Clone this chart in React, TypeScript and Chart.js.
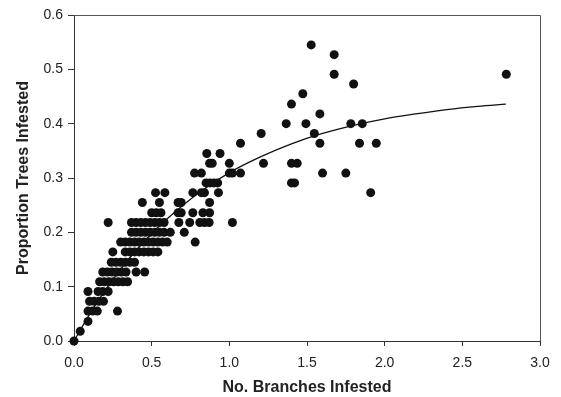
import React, { useEffect, useRef } from "react";
import { Chart, registerables } from "chart.js";

Chart.register(...registerables);

// Proportion of trees infested (y levels) and the branch counts (x) observed at each level
const rowLevels = [
  0, 0.018, 0.036, 0.055, 0.073, 0.091, 0.109, 0.127, 0.145, 0.164, 0.182, 0.2, 0.218,
  0.236, 0.255, 0.273, 0.291, 0.309, 0.327, 0.345, 0.364, 0.382, 0.4, 0.418, 0.436,
  0.455, 0.473, 0.491, 0.527, 0.545,
];
const rowBranches = [
  [0],
  [0.04],
  [0.09],
  [0.09, 0.12, 0.15, 0.28],
  [0.1, 0.13, 0.16, 0.19],
  [0.09, 0.155, 0.185, 0.22],
  [0.165, 0.195, 0.225, 0.255, 0.285, 0.315, 0.345],
  [0.185, 0.215, 0.245, 0.275, 0.305, 0.335, 0.4, 0.455],
  [0.24, 0.27, 0.3, 0.33, 0.36, 0.39],
  [0.25, 0.33, 0.36, 0.39, 0.42, 0.45, 0.48, 0.51, 0.54],
  [0.3, 0.33, 0.36, 0.39, 0.42, 0.45, 0.48, 0.51, 0.54, 0.57, 0.6, 0.78],
  [0.37, 0.4, 0.43, 0.46, 0.49, 0.52, 0.55, 0.58, 0.62, 0.71],
  [0.22, 0.37, 0.4, 0.43, 0.46, 0.49, 0.52, 0.55, 0.58, 0.675, 0.745, 0.81, 0.84, 0.87, 1.02],
  [0.5, 0.53, 0.56, 0.67, 0.69, 0.765, 0.83, 0.873],
  [0.44, 0.55, 0.67, 0.69, 0.873],
  [0.525, 0.585, 0.765, 0.82, 0.84, 0.93, 1.91],
  [0.85, 0.875, 0.9, 0.925, 1.4, 1.42],
  [0.776, 0.82, 1.0, 1.02, 1.072, 1.6, 1.75],
  [0.873, 0.89, 1.0, 1.22, 1.4, 1.437],
  [0.855, 0.94],
  [1.072, 1.583, 1.838, 1.946],
  [1.205, 1.547],
  [1.366, 1.493, 1.782, 1.856],
  [1.583],
  [1.4],
  [1.473],
  [1.8],
  [1.675, 2.783],
  [1.675],
  [1.527],
];

// Fitted curve
const curveX = [0, 0.1, 0.2, 0.3, 0.4, 0.5, 0.6, 0.8, 1.0, 1.2, 1.4, 1.6, 1.8, 2.0, 2.2, 2.4, 2.6, 2.78];
const curveY = [0, 0.049, 0.093, 0.132, 0.167, 0.198, 0.225, 0.272, 0.31, 0.339, 0.363, 0.382, 0.397, 0.409, 0.418, 0.426, 0.432, 0.436];

const xTicks = [0, 0.5, 1.0, 1.5, 2.0, 2.5, 3.0];
const yTicks = [0, 0.1, 0.2, 0.3, 0.4, 0.5, 0.6];

const FONT = "'Liberation Sans', Arial, sans-serif";

export default function App() {
  const ref = useRef<HTMLCanvasElement>(null);

  useEffect(() => {
    if (!ref.current) return;
    const points: { x: number; y: number }[] = [];
    rowLevels.forEach((lvl, i) => rowBranches[i].forEach((b) => points.push({ x: b, y: lvl })));
    const curve = curveX.map((x, i) => ({ x, y: curveY[i] }));

    const frame = {
      id: "frame",
      afterDatasetsDraw(chart: any) {
        const { ctx, chartArea } = chart;
        ctx.save();
        ctx.strokeStyle = "#555";
        ctx.lineWidth = 1;
        ctx.beginPath();
        ctx.moveTo(chartArea.left, chartArea.top + 0.5);
        ctx.lineTo(chartArea.right + 0.5, chartArea.top + 0.5);
        ctx.lineTo(chartArea.right + 0.5, chartArea.bottom);
        ctx.stroke();
        ctx.restore();
      },
    };

    const chart = new Chart(ref.current, {
      type: "scatter",
      data: {
        datasets: [
          {
            type: "line",
            data: curve,
            borderColor: "#111",
            borderWidth: 1.3,
            pointRadius: 0,
            fill: false,
            cubicInterpolationMode: "monotone",
            clip: false,
          } as any,
          {
            data: points,
            backgroundColor: "#111",
            borderWidth: 0,
            pointRadius: 4.5,
            pointHoverRadius: 4.5,
            clip: false,
          } as any,
        ],
      },
      options: {
        animation: false,
        responsive: false,
        devicePixelRatio: 1,
        layout: { padding: { left: 0, top: 15, right: 21, bottom: 0 } },
        plugins: { legend: { display: false }, tooltip: { enabled: false } },
        scales: {
          x: {
            type: "linear",
            min: 0,
            max: 3,
            afterFit: (s: any) => { s.height = 56; },
            afterBuildTicks: (s: any) => { s.ticks = xTicks.map((v) => ({ value: v })); },
            ticks: {
              color: "#222",
              font: { family: FONT, size: 14 },
              padding: 9,
              callback: (v: any) => Number(v).toFixed(1),
            },
            grid: { drawOnChartArea: false, drawTicks: true, tickLength: 5, color: "#333" },
            border: { display: true, color: "#333", width: 1 },
            title: {
              display: true,
              text: "No. Branches Infested",
              color: "#222",
              font: { family: FONT, size: 16, weight: "bold" },
              padding: { top: 0, bottom: 0 },
            },
          },
          y: {
            type: "linear",
            min: 0,
            max: 0.6,
            afterFit: (s: any) => { s.width = 74; },
            afterBuildTicks: (s: any) => { s.ticks = yTicks.map((v) => ({ value: v })); },
            ticks: {
              color: "#222",
              font: { family: FONT, size: 14 },
              padding: 5,
              callback: (v: any) => Number(v).toFixed(1),
            },
            grid: { drawOnChartArea: false, drawTicks: true, tickLength: 6, color: "#333" },
            border: { display: true, color: "#333", width: 1 },
            title: {
              display: true,
              text: "Proportion Trees Infested",
              color: "#222",
              font: { family: FONT, size: 16, weight: "bold" },
              padding: { top: 14, bottom: 0 },
            },
          },
        },
      },
      plugins: [frame],
    });
    return () => chart.destroy();
  }, []);

  return (
    <div style={{ position: "fixed", left: 0, top: 0, width: 561, height: 397, background: "#fff" }}>
      <canvas ref={ref} width={561} height={397} />
    </div>
  );
}
